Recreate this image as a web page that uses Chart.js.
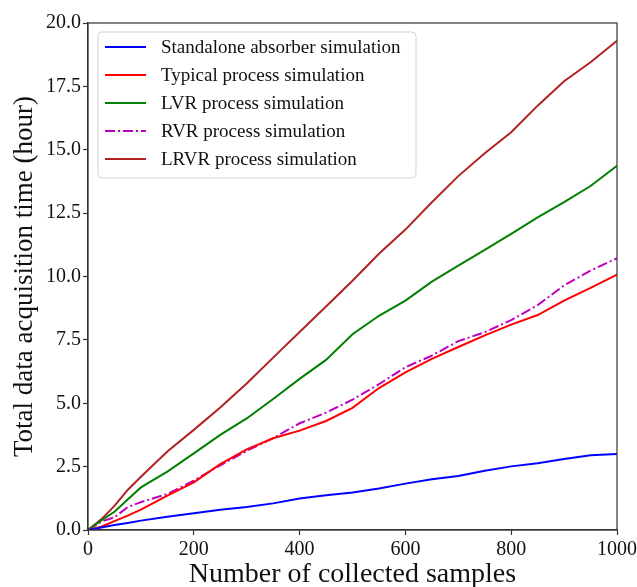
<!DOCTYPE html>
<html>
<head>
<meta charset="utf-8">
<script src="https://cdn.jsdelivr.net/npm/chart.js@4.4.0/dist/chart.umd.min.js"></script>
<style>
html,body{margin:0;padding:0;background:#fff;}
#wrap{width:637px;height:587px;position:relative;}
</style>
</head>
<body>
<div id="wrap"><canvas id="c" width="637" height="587"></canvas></div>
<script>
// Number of collected samples
const samples = [0,25,50,75,100,150,200,250,300,350,400,450,500,550,600,650,700,750,800,850,900,950,1000];
// Total data acquisition time (hour)
const standalone = [0,0.10,0.20,0.28,0.37,0.52,0.66,0.80,0.91,1.05,1.24,1.37,1.48,1.64,1.83,2.00,2.13,2.34,2.51,2.63,2.80,2.95,3.00];
const typical    = [0,0.13,0.35,0.57,0.80,1.36,1.88,2.60,3.18,3.62,3.92,4.30,4.82,5.60,6.22,6.75,7.22,7.68,8.10,8.48,9.05,9.55,10.07];
const lvr        = [0,0.38,0.72,1.20,1.68,2.30,3.02,3.75,4.40,5.17,5.96,6.71,7.72,8.45,9.05,9.80,10.43,11.05,11.68,12.33,12.93,13.57,14.37];
const rvr        = [0,0.33,0.50,0.90,1.10,1.42,1.95,2.55,3.12,3.62,4.21,4.63,5.14,5.75,6.42,6.88,7.45,7.80,8.28,8.87,9.65,10.23,10.72];
const lrvr       = [0,0.42,0.95,1.58,2.10,3.10,3.95,4.83,5.78,6.80,7.81,8.82,9.83,10.90,11.85,12.93,13.96,14.86,15.69,16.74,17.70,18.45,19.30];
const seriesLabels = ["Standalone absorber simulation","Typical process simulation","LVR process simulation","RVR process simulation","LRVR process simulation"];
const xTicks = [0,200,400,600,800,1000];
const yTicks = [0,2.5,5,7.5,10,12.5,15,17.5,20];

const SERIF = "'Liberation Serif','Times New Roman',serif";

function mk(label, data, color, dash) {
  return {
    label: label,
    data: samples.map((x, i) => ({x: x, y: data[i]})),
    borderColor: color,
    backgroundColor: color,
    borderWidth: 2,
    borderDash: dash || [],
    pointRadius: 0,
    fill: false,
    tension: 0
  };
}

const legendPlugin = {
  id: 'insideLegend',
  afterDatasetsDraw(chart) {
    const ctx = chart.ctx;
    const ca = chart.chartArea;
    ctx.save();
    // frame (spines)
    ctx.strokeStyle = '#333';
    ctx.lineWidth = 1.2;
    ctx.strokeRect(ca.left, ca.top, ca.right - ca.left, ca.bottom - ca.top);
    // legend box
    const bx = 98, by = 32, bw = 318, bh = 146, r = 4;
    ctx.beginPath();
    ctx.moveTo(bx + r, by);
    ctx.lineTo(bx + bw - r, by);
    ctx.quadraticCurveTo(bx + bw, by, bx + bw, by + r);
    ctx.lineTo(bx + bw, by + bh - r);
    ctx.quadraticCurveTo(bx + bw, by + bh, bx + bw - r, by + bh);
    ctx.lineTo(bx + r, by + bh);
    ctx.quadraticCurveTo(bx, by + bh, bx, by + bh - r);
    ctx.lineTo(bx, by + r);
    ctx.quadraticCurveTo(bx, by, bx + r, by);
    ctx.closePath();
    ctx.fillStyle = 'rgba(255,255,255,0.85)';
    ctx.fill();
    ctx.strokeStyle = '#d4d4d4';
    ctx.lineWidth = 1;
    ctx.stroke();
    chart.data.datasets.forEach((ds, i) => {
      const y = 47 + i * 28;
      ctx.beginPath();
      ctx.setLineDash(ds.borderDash || []);
      ctx.strokeStyle = ds.borderColor;
      ctx.lineWidth = 2;
      ctx.moveTo(105, y);
      ctx.lineTo(146, y);
      ctx.stroke();
      ctx.setLineDash([]);
      ctx.fillStyle = '#111';
      ctx.font = '19px ' + SERIF;
      ctx.textBaseline = 'middle';
      ctx.textAlign = 'left';
      ctx.fillText(ds.label, 161, y + 1);
    });
    ctx.restore();
  }
};

new Chart(document.getElementById('c'), {
  type: 'line',
  data: {
    datasets: [
      mk(seriesLabels[0], standalone, '#0000ff'),
      mk(seriesLabels[1], typical, '#ff0000'),
      mk(seriesLabels[2], lvr, '#008000'),
      mk(seriesLabels[3], rvr, '#bf00bf', [10, 3, 2, 3]),
      mk(seriesLabels[4], lrvr, '#b22222')
    ]
  },
  options: {
    responsive: false,
    animation: false,
    devicePixelRatio: 1,
    layout: {padding: {top: 23, right: 20, left: 0, bottom: 0}},
    plugins: {legend: {display: false}, tooltip: {enabled: false}},
    scales: {
      x: {
        type: 'linear',
        min: 0, max: 1000,
        afterBuildTicks: s => { s.ticks = xTicks.map(v => ({value: v})); },
        afterFit: s => { s.height = 57; s.paddingRight = 0; s.paddingLeft = 0; },
        ticks: {font: {family: SERIF, size: 20}, color: '#111', padding: 3, maxRotation: 0,
                callback: v => String(v)},
        grid: {display: true, drawOnChartArea: false, drawTicks: true, tickLength: 5, color: '#333', tickWidth: 1.2},
        border: {display: true, color: '#333', width: 1.2},
        title: {display: true, text: 'Number of collected samples', color: '#111',
                font: {family: SERIF, size: 28, lineHeight: 0.86}, padding: {top: 0, bottom: 0}}
      },
      y: {
        type: 'linear',
        min: 0, max: 20,
        afterBuildTicks: s => { s.ticks = yTicks.map(v => ({value: v})); },
        afterFit: s => { s.width = 88; s.paddingTop = 0; s.paddingBottom = 0; },
        ticks: {font: {family: SERIF, size: 20}, color: '#111', padding: 2,
                callback: v => Number(v).toFixed(1)},
        grid: {display: true, drawOnChartArea: false, drawTicks: true, tickLength: 5, color: '#333', tickWidth: 1.2},
        border: {display: true, color: '#333', width: 1.2},
        title: {display: true, text: 'Total data acquisition time (hour)', color: '#111',
                font: {family: SERIF, size: 27, lineHeight: 1.2}, padding: {top: 9, bottom: 0}}
      }
    }
  },
  plugins: [legendPlugin]
});
</script>
</body>
</html>
